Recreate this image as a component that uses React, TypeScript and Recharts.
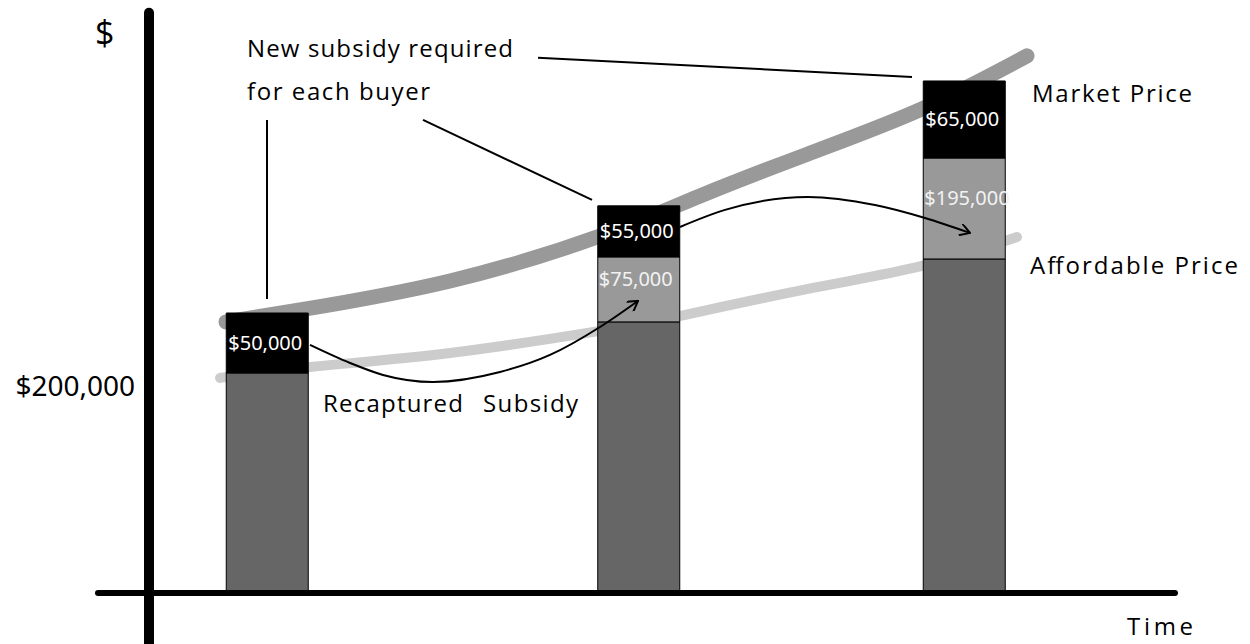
import React from 'react';
import { ComposedChart, LineChart, Bar, Line, XAxis, YAxis, ReferenceLine, LabelList } from 'recharts';

// Bars (time positions, values in $1000 of the drawn scale)
const times = [26.7, 63.85, 96.4];
const baseValues = [200, 246.4, 303.6];
const recapturedValues = [0, 59.1, 91.8];
const newSubsidyValues = [54.5, 46.4, 70];
const newSubsidyLabels = ['$50,000', '$55,000', '$65,000'];
const recapturedLabels = ['', '$75,000', '$195,000'];
const yTicks = [200];

// Curves
const marketTimes = [22.6, 30, 45, 60, 70, 80.8, 92.2, 102.7];
const marketValues = [246.4, 257.3, 283.6, 324.5, 360.9, 399.1, 440, 488.2];
const affordTimes = [22, 31, 45, 60, 68, 80.8, 92.2, 101.7];
const affordValues = [195.5, 205.5, 218.2, 238.2, 251.8, 276.4, 297.3, 323.6];

// Recaptured-subsidy arrows
const arrow1Times = [31, 35, 38.3, 43.3, 50, 55, 60, 63.8];
const arrow1Values = [225.5, 209.1, 198.2, 191.8, 200.9, 216.4, 241.8, 265.5];
const arrow2Times = [68, 72.5, 80.8, 87.5, 92.5, 97];
const arrow2Values = [332.7, 348.2, 360, 352.7, 340.9, 327.3];

const barData = times.map((t, i) => ({
  time: t,
  base: baseValues[i],
  recaptured: recapturedValues[i],
  newSubsidy: newSubsidyValues[i],
  recapturedLabel: recapturedLabels[i],
  newSubsidyLabel: newSubsidyLabels[i],
}));
const toSeries = (xs: number[], ys: number[]) => xs.map((t, i) => ({ time: t, value: ys[i] }));
const marketData = toSeries(marketTimes, marketValues);
const affordData = toSeries(affordTimes, affordValues);
const arrow1Data = toSeries(arrow1Times, arrow1Values);
const arrow2Data = toSeries(arrow2Times, arrow2Values);

const X_DOMAIN: [number, number] = [15, 125];
const Y_DOMAIN: [number, number] = [0, 539];
const W = 1250;
const H = 644;

const handFont = '"Comic Sans MS", "Open Sans", sans-serif';
const numFont = '"Noto Sans", sans-serif';

const topLabel = (props: any) => {
  const { x, y, height, value } = props;
  if (!value) return null;
  return (
    <text x={Number(x) + 2} y={Number(y) + Number(height) / 2 + 7} fill="#ffffff" fontSize={20} fontFamily={numFont}>
      {value}
    </text>
  );
};
const midLabel = (props: any) => {
  const { x, y, height, value } = props;
  if (!value) return null;
  return (
    <text x={Number(x) + 1} y={Number(y) + Number(height) / 2 - 3} fill="#f2f2f2" fontSize={20} fontFamily={numFont}>
      {value}
    </text>
  );
};
const yTick = (props: any) => {
  const { x, y, payload } = props;
  return (
    <text x={x} y={Number(y) + 23} textAnchor="end" fontSize={28} fontFamily={numFont} fill="#000">
      {`$${payload.value},000`}
    </text>
  );
};

const layer: React.CSSProperties = { position: 'absolute', left: 0, top: 0, pointerEvents: 'none' };
const sideMargin = { top: 0, right: 0, bottom: 51, left: 150 };

export default function App() {
  return (
    <div style={{ position: 'absolute', left: 0, top: 0, width: W, height: H, background: '#fff' }}>
      {/* layer 1: price curves (behind the bars) */}
      <div style={layer}>
        <LineChart width={W} height={H} margin={sideMargin}>
          <XAxis type="number" dataKey="time" domain={X_DOMAIN} hide allowDataOverflow />
          <YAxis type="number" domain={Y_DOMAIN} hide allowDataOverflow />
          <Line data={marketData} dataKey="value" type="natural" stroke="#999999" strokeWidth={15} strokeLinecap="round" dot={false} activeDot={false} isAnimationActive={false} legendType="none" />
          <Line data={affordData} dataKey="value" type="natural" stroke="#cccccc" strokeWidth={10} strokeLinecap="round" dot={false} activeDot={false} isAnimationActive={false} legendType="none" />
        </LineChart>
      </div>

      {/* layer 2: stacked bars, axes, callouts, text */}
      <div style={layer}>
        <ComposedChart width={W} height={H} data={barData} margin={{ top: 0, right: 0, bottom: 51, left: 0 }}>
          <XAxis type="number" dataKey="time" domain={X_DOMAIN} hide allowDataOverflow />
          <YAxis type="number" domain={Y_DOMAIN} ticks={yTicks} width={150} axisLine={false} tickLine={false} tickSize={0} tickMargin={15} tick={yTick} allowDataOverflow />

          <Bar dataKey="base" stackId="s" fill="#666666" stroke="#000" strokeWidth={1} barSize={82} isAnimationActive={false} />
          <Bar dataKey="recaptured" stackId="s" fill="#999999" stroke="#000" strokeWidth={1} barSize={82} isAnimationActive={false}>
            <LabelList dataKey="recapturedLabel" content={midLabel} />
          </Bar>
          <Bar dataKey="newSubsidy" stackId="s" fill="#000000" stroke="#000" strokeWidth={1} barSize={82} isAnimationActive={false}>
            <LabelList dataKey="newSubsidyLabel" content={topLabel} />
          </Bar>

          {/* axes */}
          <ReferenceLine segment={[{ x: 9.8, y: 0 }, { x: 117.5, y: 0 }]} stroke="#000" strokeWidth={6} strokeLinecap="round" ifOverflow="visible" />
          <ReferenceLine segment={[{ x: 14.9, y: 527.3 }, { x: 14.9, y: -60 }]} stroke="#000" strokeWidth={10} strokeLinecap="round" ifOverflow="visible" />

          {/* callout lines */}
          <ReferenceLine segment={[{ x: 26.7, y: 430 }, { x: 26.7, y: 267.3 }]} stroke="#000" strokeWidth={2} ifOverflow="visible" />
          <ReferenceLine segment={[{ x: 42.3, y: 430 }, { x: 59.2, y: 357.3 }]} stroke="#000" strokeWidth={2} ifOverflow="visible" />
          <ReferenceLine segment={[{ x: 53.8, y: 486.4 }, { x: 91.2, y: 469.1 }]} stroke="#000" strokeWidth={2} ifOverflow="visible" />

          {/* annotation text */}
          <text x={95} y={45} fontSize={34} fontFamily={handFont} fill="#000">$</text>
          <text x={247} y={57} fontSize={24} fontFamily={handFont} fill="#000" textLength={266}>New subsidy required</text>
          <text x={247} y={100} fontSize={24} fontFamily={handFont} fill="#000" textLength={183}>for each buyer</text>
          <text x={1032} y={102} fontSize={24} fontFamily={handFont} fill="#000" textLength={160}>Market Price</text>
          <text x={1030} y={274} fontSize={24} fontFamily={handFont} fill="#000" textLength={208}>Affordable Price</text>
          <text x={323} y={412} fontSize={24} fontFamily={handFont} fill="#000" textLength={140}>Recaptured</text>
          <text x={483} y={412} fontSize={24} fontFamily={handFont} fill="#000" textLength={95}>Subsidy</text>
          <text x={1127} y={635} fontSize={24} fontFamily={handFont} fill="#000" textLength={66}>Time</text>
        </ComposedChart>
      </div>

      {/* layer 3: recaptured-subsidy arrows (above the bars) */}
      <div style={layer}>
        <LineChart width={W} height={H} margin={sideMargin}>
          <defs>
            <marker id="arrowHead" viewBox="0 0 12 12" refX="11" refY="6" markerWidth="12" markerHeight="12" orient="auto" markerUnits="userSpaceOnUse">
              <path d="M1,0 L11,6 L1,12" fill="none" stroke="#000" strokeWidth={2} />
            </marker>
          </defs>
          <XAxis type="number" dataKey="time" domain={X_DOMAIN} hide allowDataOverflow />
          <YAxis type="number" domain={Y_DOMAIN} hide allowDataOverflow />
          <Line data={arrow1Data} dataKey="value" type="monotone" stroke="#000" strokeWidth={2} dot={false} activeDot={false} isAnimationActive={false} markerEnd="url(#arrowHead)" legendType="none" />
          <Line data={arrow2Data} dataKey="value" type="monotone" stroke="#000" strokeWidth={2} dot={false} activeDot={false} isAnimationActive={false} markerEnd="url(#arrowHead)" legendType="none" />
        </LineChart>
      </div>
    </div>
  );
}
